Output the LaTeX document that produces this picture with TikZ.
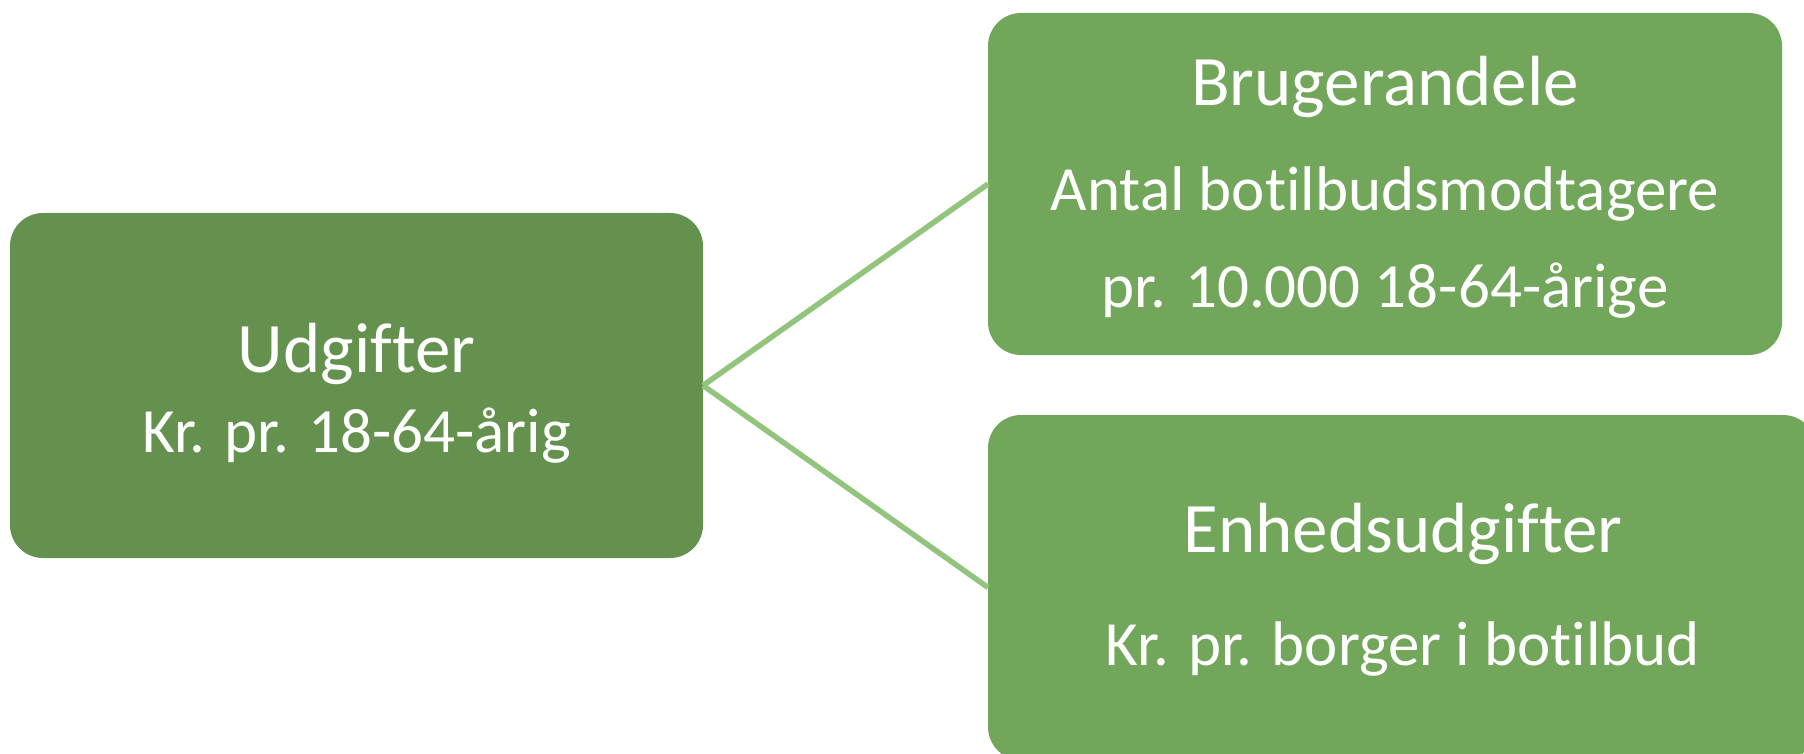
\documentclass[tikz,border=0pt]{standalone}
\usepackage{fontspec}
\setmainfont{Carlito}[Ligatures=NoCommon]
\definecolor{darkg}{HTML}{64914D}
\definecolor{lightg}{HTML}{72A75B}
\definecolor{lineg}{HTML}{93C47D}
\begin{document}
\begin{tikzpicture}[x=1pt,y=-1pt,
  box/.style={rectangle,rounded corners=33pt,inner sep=0pt,outer sep=0pt,draw=none},
  big/.style={text=white,inner sep=0pt,anchor=base,font=\fontsize{71}{85}\selectfont},
  small/.style={text=white,inner sep=0pt,anchor=base,font=\fontsize{63}{75}\selectfont},
  conn/.style={draw=lineg,line width=5.5pt}]
\useasboundingbox (0,0) rectangle (1804,754);
\clip (0,0) rectangle (1804,754);
\node[box,fill=darkg,minimum width=693pt,minimum height=345pt] (L) at (356.5,385.5) {};
\node[box,fill=lightg,minimum width=794pt,minimum height=342pt] (T) at (1385,184) {};
\node[box,fill=lightg,minimum width=828pt,minimum height=345pt] (B) at (1402,587.5) {};
\draw[conn] (L.east) -- (T.west);
\draw[conn] (L.east) -- (B.west);
\node[big] (l1) at (356.5,372) {Udgifter};
\node[small] (l2) at (356.5,452) {Kr. pr. 18-64-årig};
\node[big] (t1) at (1385,106) {Brugerandele};
\node[small] (t2) at (1385,211) {Antal botilbudsmodtagere};
\node[small] (t3) at (1385,307) {pr. 10.000 18-64-årige};
\node[big] (b1) at (1403,552) {Enhedsudgifter};
\node[small] (b2) at (1403,665) {Kr. pr. borger i botilbud};
\end{tikzpicture}
\end{document}
